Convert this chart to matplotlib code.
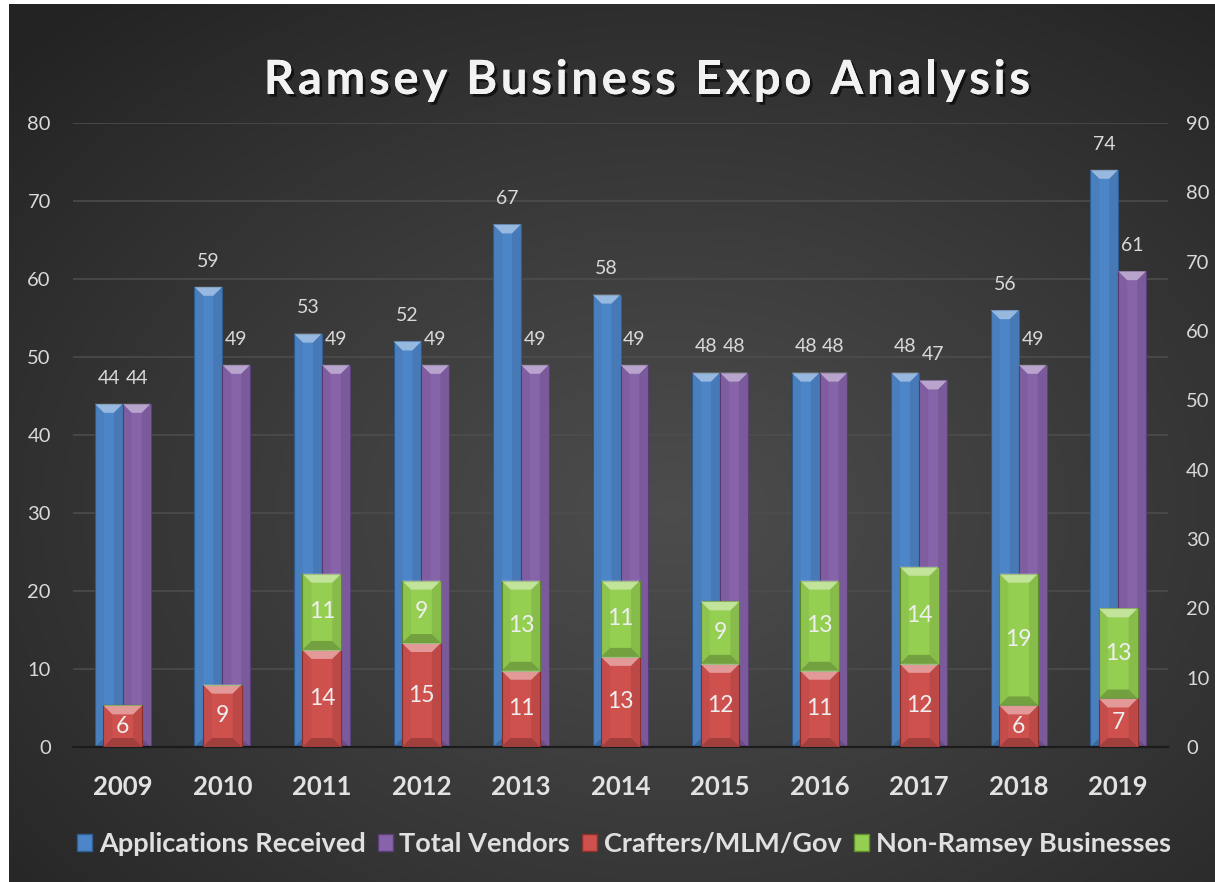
import numpy as np
import matplotlib
matplotlib.use('Agg')
import matplotlib.pyplot as plt
from matplotlib.patches import Polygon, Patch
from matplotlib.font_manager import FontProperties
import matplotlib.patheffects as pe

# ---------------- data ----------------
years = ['2009', '2010', '2011', '2012', '2013', '2014', '2015', '2016', '2017', '2018', '2019']
applications = [44, 59, 53, 52, 67, 58, 48, 48, 48, 56, 74]
vendors = [44, 49, 49, 49, 49, 49, 48, 48, 47, 49, 61]
crafters = [6, 9, 14, 15, 11, 13, 12, 11, 12, 6, 7]
non_ramsey = [0, 0, 11, 9, 13, 11, 9, 13, 14, 19, 13]
series_names = ['Applications Received', 'Total Vendors', 'Crafters/MLM/Gov', 'Non-Ramsey Businesses']
title = 'Ramsey Business Expo Analysis'

# ---------------- style ----------------
FONT = 'Lato'
plt.rcParams['font.family'] = [FONT, 'DejaVu Sans']
c_blue, c_blue_e = '#4d86c8', '#2f5f96'
c_purple, c_purple_e = '#8763aa', '#5a3f78'
c_red, c_red_e = '#cf514e', '#8c2f2d'
c_green, c_green_e = '#95cf52', '#5f8f2c'
txt = '#d9d9d9'

W, H = 1215, 882
fig = plt.figure(figsize=(W / 100, H / 100), dpi=100)
fig.patch.set_facecolor('white')

# background radial gradient
bg = fig.add_axes([9 / W, 0, 1 - 9 / W, 1 - 4 / H])
bg.set_zorder(-10)
bg.axis('off')
ny, nx = 300, 420
yy, xx = np.mgrid[0:1:ny * 1j, 0:1:nx * 1j]
r = np.sqrt(((xx - 0.55) / 0.75) ** 2 + ((yy - 0.58) / 0.75) ** 2)
r = np.clip(r, 0, 1)
val = 0.30 - (0.30 - 0.140) * r ** 1.1
img = np.dstack([val, val, val])
bg.imshow(img, extent=[0, 1, 0, 1], aspect='auto', origin='upper', interpolation='bilinear')
bg.set_xlim(0, 1)
bg.set_ylim(0, 1)

# main axes
ax = fig.add_axes([73 / W, 1 - 747 / H, (1168 - 73) / W, (747 - 123) / H])
ax.set_facecolor('none')
ax2 = ax.twinx()
ax2.set_facecolor('none')

x = np.arange(len(years))
w = 0.28
b1 = ax.bar(x - w / 2, applications, w, color=c_blue, edgecolor=c_blue_e, lw=0.8, zorder=2)
b2 = ax.bar(x + w / 2, vendors, w, color=c_purple, edgecolor=c_purple_e, lw=0.8, zorder=2)
ax.set_xlim(-0.5, len(years) - 0.5)
ax.set_ylim(0, 80)
ax2.set_ylim(0, 90)

w2 = 0.39
r_b = ax2.bar(x, crafters, w2, color=c_red, edgecolor=c_red_e, lw=0.8, zorder=2)
g_b = ax2.bar(x, non_ramsey, w2, bottom=crafters, color=c_green, edgecolor=c_green_e, lw=0.8, zorder=2)

ax_h_px = (747 - 123)
ax_w_px = (1168 - 73)


def bevel(axis, container, ymax, light_alpha=0.42, dark_alpha=0.22, px=9):
    hd = px * ymax / ax_h_px
    dd = px * len(years) / ax_w_px
    for p in container.patches:
        x0, y0, wd, ht = p.get_x(), p.get_y(), p.get_width(), p.get_height()
        if ht <= 0:
            continue
        h = min(hd, ht / 2.2)
        d = min(dd, wd / 2.2)
        top, bot = y0 + ht, y0
        polys = [
            ([(x0, top), (x0 + wd, top), (x0 + wd - d, top - h), (x0 + d, top - h)], 'white', light_alpha),
            ([(x0, bot), (x0 + wd, bot), (x0 + wd - d, bot + h), (x0 + d, bot + h)], 'black', dark_alpha),
            ([(x0, bot), (x0 + d, bot + h), (x0 + d, top - h), (x0, top)], 'black', 0.05),
            ([(x0 + wd, bot), (x0 + wd - d, bot + h), (x0 + wd - d, top - h), (x0 + wd, top)], 'black', 0.09),
        ]
        for pts, col, a in polys:
            axis.add_patch(Polygon(pts, closed=True, facecolor=col, alpha=a, lw=0, zorder=3))


bevel(ax, b1, 80)
bevel(ax, b2, 80)
bevel(ax2, r_b, 90)
bevel(ax2, g_b, 90)

# labels above primary bars
for cont, vals in ((b1, applications), (b2, vendors)):
    for p, v in zip(cont.patches, vals):
        ax.annotate(str(v), (p.get_x() + p.get_width() / 2, p.get_y() + p.get_height()),
                    xytext=(0, 18.5), textcoords='offset points', ha='center', va='center',
                    fontsize=14, color=txt, zorder=5)

# labels inside stacked bars
for cont, vals in ((r_b, crafters), (g_b, non_ramsey)):
    for p, v in zip(cont.patches, vals):
        if v <= 0:
            continue
        ax2.text(p.get_x() + p.get_width() / 2, p.get_y() + p.get_height() / 2, str(v),
                 ha='center', va='center', fontsize=16.5, color='#eeeeee', zorder=5)

# axes styling
ax.set_axisbelow(True)
ax.yaxis.grid(True, color='#4e4e4e', lw=1.1)
ax.set_yticks(np.arange(0, 81, 10))
ax2.set_yticks(np.arange(0, 91, 10))
for a in (ax, ax2):
    for s in a.spines.values():
        s.set_visible(False)
ax.spines['bottom'].set_visible(True)
ax.spines['bottom'].set_color('#1c1c1c')
ax.spines['bottom'].set_linewidth(1.6)
ax.tick_params(axis='y', length=0, labelsize=14.5, labelcolor=txt, pad=16)
ax2.tick_params(axis='y', length=0, labelsize=14.5, labelcolor=txt, pad=13)
ax.set_xticks(x, years)
ax.tick_params(axis='x', length=0, labelsize=18.5, labelcolor='#e2e2e2', pad=20)
for lab in ax.get_xticklabels():
    lab.set_fontweight('bold')

# title with letter spacing
fig.canvas.draw()
renderer = fig.canvas.get_renderer()
tprop = FontProperties(family=FONT, weight='bold', size=34)
spacing_px = 3.7


def prefix_w(s):
    if not s:
        return 0.0
    wdt, _, _ = renderer.get_text_width_height_descent(s.replace(' ', '\u00a0'), tprop, ismath=False)
    return wdt


total_w = prefix_w(title) + spacing_px * (len(title) - 1)
x_start = 647 - total_w / 2
for i, ch in enumerate(title):
    if ch == ' ':
        continue
    xp = x_start + prefix_w(title[:i]) + spacing_px * i
    fig.text(xp / W, 1 - 80 / H, ch, ha='left', va='center', fontproperties=tprop,
             color='#f2f2f2',
             path_effects=[pe.withSimplePatchShadow(offset=(2, -2), shadow_rgbFace='black', alpha=0.6),
                           pe.Normal()])

# legend
handles = [Patch(facecolor=c_blue, edgecolor=c_blue_e), Patch(facecolor=c_purple, edgecolor=c_purple_e),
           Patch(facecolor=c_red, edgecolor=c_red_e), Patch(facecolor=c_green, edgecolor=c_green_e)]
leg = fig.legend(handles, series_names, loc='center', bbox_to_anchor=(624 / W, 1 - 844 / H), ncol=4,
                 frameon=False, prop={'family': FONT, 'weight': 'bold', 'size': 19.5},
                 labelcolor='#e0e0e0', handlelength=0.55, handleheight=0.55, handletextpad=0.25,
                 columnspacing=0.45)

fig.savefig('out.png', dpi=100, facecolor=fig.get_facecolor())
